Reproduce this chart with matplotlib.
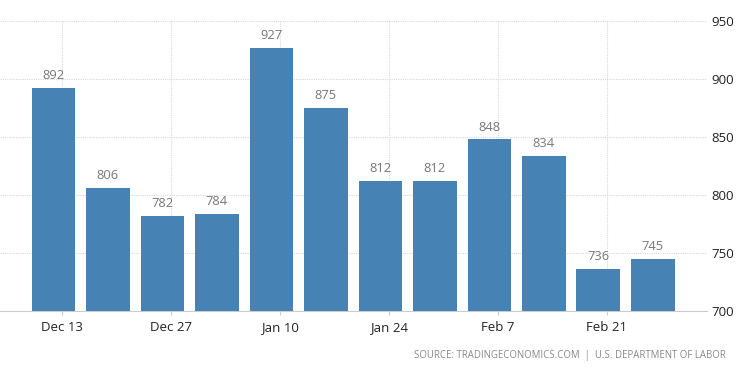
import matplotlib.pyplot as plt
import numpy as np

# --- data ---
claims = [892, 806, 782, 784, 927, 875, 812, 812, 848, 834, 736, 745]
tick_labels = ["Dec 13", "Dec 27", "Jan 10", "Jan 24", "Feb 7", "Feb 21"]
tick_bars = [0, 2, 4, 6, 8, 10]
y_ticks = [700, 750, 800, 850, 900, 950]
source = "SOURCE: TRADINGECONOMICS.COM  |  U.S. DEPARTMENT OF LABOR"

plt.rcParams["font.family"] = ["Open Sans", "DejaVu Sans"]

fig = plt.figure(figsize=(7.5, 3.73), dpi=100)
ax = fig.add_axes([0.0, 0.1662, 0.943, 0.7775])

x = np.arange(len(claims))
ax.bar(x, claims, width=0.8, color="#4682b4", zorder=3)

for xi, v in zip(x, claims):
    ax.text(xi, v + 5, str(v), ha="center", va="bottom",
            fontsize=9.3, color="#777777", zorder=4)

ax.set_xlim(-0.98, 12.0)
ax.set_ylim(700, 950)

# date ticks sit a bit right of the bar centres
ax.set_xticks([i + 0.16 for i in tick_bars])
ax.set_xticklabels(tick_labels, fontsize=9.5, color="#222222")
ax.tick_params(axis="x", length=3, color="#cccccc", pad=4)

ax.yaxis.tick_right()
ax.set_yticks(y_ticks)
ax.set_yticklabels([str(t) for t in y_ticks], fontsize=9.5, color="#222222")
ax.tick_params(axis="y", length=0, pad=3)

ax.grid(True, color="#d8d8d8", linestyle=(0, (1, 1)), linewidth=0.8, zorder=0)
for s in ["top", "left", "right"]:
    ax.spines[s].set_visible(False)
ax.spines["bottom"].set_color("#cccccc")
ax.spines["bottom"].set_linestyle((0, (1, 1)))

fig.text(0.967, 0.047, source, ha="right", va="center",
         fontsize=6.9, color="#888888")

fig.savefig("out.png", dpi=100)
